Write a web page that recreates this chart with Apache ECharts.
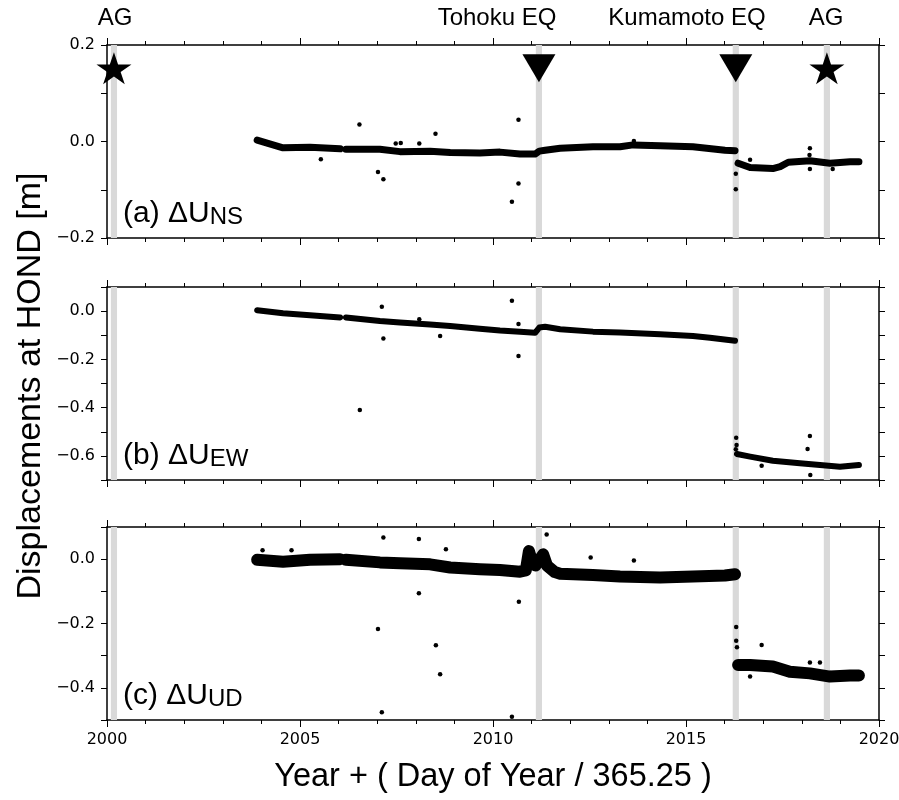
<!DOCTYPE html>
<html>
<head>
<meta charset="utf-8">
<script src="https://cdn.jsdelivr.net/npm/echarts/dist/echarts.min.js"></script>
<style>
  html, body { margin: 0; padding: 0; background: #fff; }
  #chart { width: 899px; height: 800px; }
</style>
</head>
<body>
<div id="chart"></div>
<script>
// event lines (year) shown as grey bands
const eventYears = [2000.18, 2011.19, 2016.29, 2018.65];
const eventNames = ['AG', 'Tohoku EQ', 'Kumamoto EQ', 'AG'];
const eventKinds = ['star', 'tri', 'tri', 'star'];
const eventMarkerValue = 0.152;

// axis extents per panel [min, max]
const nsRange = [-0.2, 0.2];
const ewRange = [-0.7, 0.1];
const udRange = [-0.5, 0.1];

// (a) NS displacement ('-' = data gap)
const nsYears = [2003.89, 2004.56, 2005.26, 2006.04, 2006.1, 2006.19, 2007.07, 2007.59, 2008.37, 2008.89,
  2009.66, 2010.18, 2010.7, 2011.09, 2011.2, 2011.35, 2011.74, 2012.59, 2013.29, 2013.63, 2014.33,
  2015.18, 2016.01, 2016.27, 2016.3, 2016.35, 2016.66, 2017.25, 2017.44, 2017.65, 2018.21, 2018.73,
  2019.25, 2019.48];
const nsValues = [0.003, -0.013, -0.012, -0.015, '-', -0.016, -0.016, -0.021, -0.020, -0.023,
  -0.024, -0.022, -0.026, -0.026, -0.02, -0.018, -0.014, -0.011, -0.011, -0.007, -0.009,
  -0.011, -0.018, -0.019, '-', -0.045, -0.054, -0.056, -0.052, -0.043, -0.040, -0.045,
  -0.042, -0.042];
const nsOutliers = [[2006.54, 0.035], [2005.54, -0.037], [2008.51, 0.016], [2010.66, 0.045],
  [2007.02, -0.063], [2007.16, -0.078], [2010.66, -0.087], [2010.49, -0.125], [2013.65, 0.001],
  [2016.29, -0.067], [2016.29, -0.099], [2016.66, -0.038], [2018.21, -0.014], [2018.2, -0.028],
  [2018.21, -0.057], [2018.8, -0.057], [2007.48, -0.004], [2007.61, -0.003], [2008.09, -0.004]];

// (b) EW displacement
const ewYears = [2003.89, 2004.56, 2005.26, 2006.04, 2006.1, 2006.19, 2007.07, 2007.59, 2008.37, 2008.89,
  2009.66, 2010.18, 2010.7, 2011.09, 2011.2, 2011.35, 2011.74, 2012.59, 2013.29, 2014.33, 2015.18,
  2015.62, 2016.27, 2016.3, 2016.32, 2016.66, 2017.25, 2017.95, 2018.47, 2018.99, 2019.48];
const ewValues = [0.004, -0.009, -0.017, -0.026, '-', -0.026, -0.041, -0.047, -0.055, -0.062,
  -0.073, -0.080, -0.085, -0.090, -0.068, -0.065, -0.075, -0.085, -0.089, -0.096, -0.103,
  -0.110, -0.123, '-', -0.592, -0.603, -0.620, -0.631, -0.638, -0.645, -0.638];
const ewOutliers = [[2007.12, 0.018], [2007.16, -0.113], [2006.55, -0.41], [2008.63, -0.103],
  [2010.49, 0.043], [2010.66, -0.053], [2010.66, -0.186], [2008.09, -0.034], [2016.3, -0.525],
  [2016.31, -0.555], [2016.29, -0.573], [2016.96, -0.641], [2018.21, -0.518], [2018.15, -0.571],
  [2018.22, -0.679]];

// (c) UD displacement
const udYears = [2003.89, 2004.56, 2005.26, 2006.04, 2006.1, 2006.19, 2007.07, 2007.59, 2008.37, 2008.89,
  2009.66, 2010.18, 2010.7, 2010.85, 2010.93, 2011.02, 2011.1, 2011.3, 2011.4, 2011.6, 2011.74,
  2012.59, 2013.29, 2014.33, 2015.18, 2016.01, 2016.27, 2016.3, 2016.35, 2016.66, 2017.25, 2017.69,
  2018.21, 2018.73, 2019.25, 2019.48];
const udValues = [-0.002, -0.008, -0.002, 0.0, '-', -0.002, -0.010, -0.013, -0.016, -0.026,
  -0.031, -0.034, -0.039, -0.035, 0.025, -0.010, -0.020, 0.015, -0.020, -0.040, -0.045,
  -0.049, -0.054, -0.057, -0.054, -0.051, -0.047, '-', -0.329, -0.329, -0.334, -0.350,
  -0.355, -0.365, -0.362, -0.362];
const udOutliers = [[2007.16, 0.067], [2008.08, 0.063], [2008.78, 0.031], [2011.39, 0.077],
  [2008.08, -0.106], [2010.67, -0.132], [2007.02, -0.217], [2008.52, -0.268], [2008.63, -0.358],
  [2007.12, -0.476], [2010.49, -0.49], [2004.78, 0.028], [2004.03, 0.028], [2012.53, 0.005],
  [2013.65, -0.004], [2016.3, -0.211], [2016.3, -0.254], [2016.32, -0.274], [2016.96, -0.267],
  [2016.66, -0.365], [2018.21, -0.321], [2018.47, -0.321]];

const FONT = 'Liberation Sans, Arial, Helvetica, sans-serif';
const TICKFONT = 'DejaVu Sans, sans-serif';
const STAR = 'path://M50,0 L61.23,34.55 L97.55,34.55 L68.17,55.9 L79.39,90.45 L50,69.1 L20.61,90.45 L31.83,55.9 L2.45,34.55 L38.77,34.55 Z';

const panels = [
  { years: nsYears, values: nsValues, outliers: nsOutliers, range: nsRange, top: 45, width: 7, tag: '(a)', sub: 'NS' },
  { years: ewYears, values: ewValues, outliers: ewOutliers, range: ewRange, top: 287, width: 6, tag: '(b)', sub: 'EW' },
  { years: udYears, values: udValues, outliers: udOutliers, range: udRange, top: 527, width: 12, tag: '(c)', sub: 'UD' },
];

function fmt(v) {
  const k = Math.round(v * 10);
  if (k % 2 !== 0) return '';
  if (k === 0) return '0.0';
  return (k < 0 ? '\u2212' : '') + Math.abs(v).toFixed(1);
}

const frame = { show: true, onZero: false, lineStyle: { color: '#000', width: 1.5 } };

const grid = [], xAxis = [], yAxis = [], series = [], graphic = [];

panels.forEach((p, i) => {
  grid.push({ left: 107, top: p.top, width: 772, height: 193, containLabel: false, outerBoundsMode: 'none' });
  [ 'bottom', 'top' ].forEach(pos => {
    xAxis.push({
      type: 'value', gridIndex: i, position: pos, min: 2000, max: 2020, interval: 5,
      axisLine: frame,
      axisTick: { show: true, inside: false, length: 7, lineStyle: { color: '#000', width: 1 } },
      minorTick: { show: true, splitNumber: 5, length: 4, lineStyle: { color: '#000', width: 1 } },
      splitLine: { show: false }, minorSplitLine: { show: false },
      axisLabel: {
        show: pos === 'bottom' && i === 2, margin: 12, color: '#000',
        fontFamily: TICKFONT, fontSize: 16, formatter: v => String(v),
        showMinLabel: true, showMaxLabel: true, hideOverlap: false
      }
    });
  });
  [ 'left', 'right' ].forEach(pos => {
    yAxis.push({
      type: 'value', gridIndex: i, position: pos, min: p.range[0], max: p.range[1], interval: 0.1,
      axisLine: frame,
      axisTick: { show: true, inside: false, length: 6, lineStyle: { color: '#000', width: 1 } },
      splitLine: { show: false },
      axisLabel: {
        show: pos === 'left', margin: 12, color: '#000',
        fontFamily: TICKFONT, fontSize: 16, formatter: fmt
      }
    });
  });

  // grey event bands
  series.push({
    type: 'line', xAxisIndex: 2 * i, yAxisIndex: 2 * i, data: [], silent: true, z: 1,
    markArea: {
      silent: true, itemStyle: { color: '#d9d9d9', opacity: 1 },
      data: eventYears.map(t => [{ xAxis: t - 0.08 }, { xAxis: t + 0.08 }])
    }
  });
  // dense daily band
  series.push({
    type: 'line', xAxisIndex: 2 * i, yAxisIndex: 2 * i, z: 3, silent: true,
    data: p.years.map((x, k) => [x, p.values[k]]),
    symbol: 'none', connectNulls: false,
    lineStyle: { color: '#000', width: p.width, cap: 'round', join: 'round' }
  });
  // scattered points
  series.push({
    type: 'scatter', xAxisIndex: 2 * i, yAxisIndex: 2 * i, z: 4, silent: true,
    data: p.outliers, symbolSize: 4.5, itemStyle: { color: '#000', opacity: 1 }
  });

  graphic.push({
    type: 'text', x: 123, y: p.top + 154, silent: true,
    style: {
      text: '{m|' + p.tag + ' \u0394U}{s|' + p.sub + '}',
      verticalAlign: 'top', align: 'left',
      rich: {
        m: { fontFamily: FONT, fontSize: 30, lineHeight: 30, verticalAlign: 'bottom', fill: '#000', color: '#000' },
        s: { fontFamily: FONT, fontSize: 24, lineHeight: 2, verticalAlign: 'bottom', fill: '#000', color: '#000' }
      }
    }
  });
});

// event symbols on the top panel
series.push({
  type: 'scatter', xAxisIndex: 0, yAxisIndex: 0, z: 5, silent: true,
  itemStyle: { color: '#000', opacity: 1 },
  data: eventYears.map((t, k) => eventKinds[k] === 'star'
    ? { value: [t, eventMarkerValue], symbol: STAR, symbolSize: [35, 32] }
    : { value: [t, eventMarkerValue], symbol: 'triangle', symbolRotate: 180, symbolSize: [33, 28] })
});

const eventLabelX = [115, 497, 687, 826];
eventNames.forEach((n, k) => {
  graphic.push({
    type: 'text', x: eventLabelX[k], y: 18, silent: true,
    style: { text: n, fontFamily: FONT, fontSize: 24, fill: '#000', align: 'center', verticalAlign: 'middle' }
  });
});

graphic.push({
  type: 'text', x: 31, y: 386, rotation: Math.PI / 2, silent: true,
  style: { text: 'Displacements at HOND [m]', fontFamily: FONT, fontSize: 34, fill: '#000', align: 'center', verticalAlign: 'middle' }
});
graphic.push({
  type: 'text', x: 493, y: 777, silent: true,
  style: { text: 'Year + ( Day of Year / 365.25 )', fontFamily: FONT, fontSize: 32.5, fill: '#000', align: 'center', verticalAlign: 'middle' }
});

const chart = echarts.init(document.getElementById('chart'), null, { renderer: 'canvas' });
chart.setOption({
  backgroundColor: '#fff',
  animation: false,
  grid, xAxis, yAxis, series, graphic
});
</script>
</body>
</html>
